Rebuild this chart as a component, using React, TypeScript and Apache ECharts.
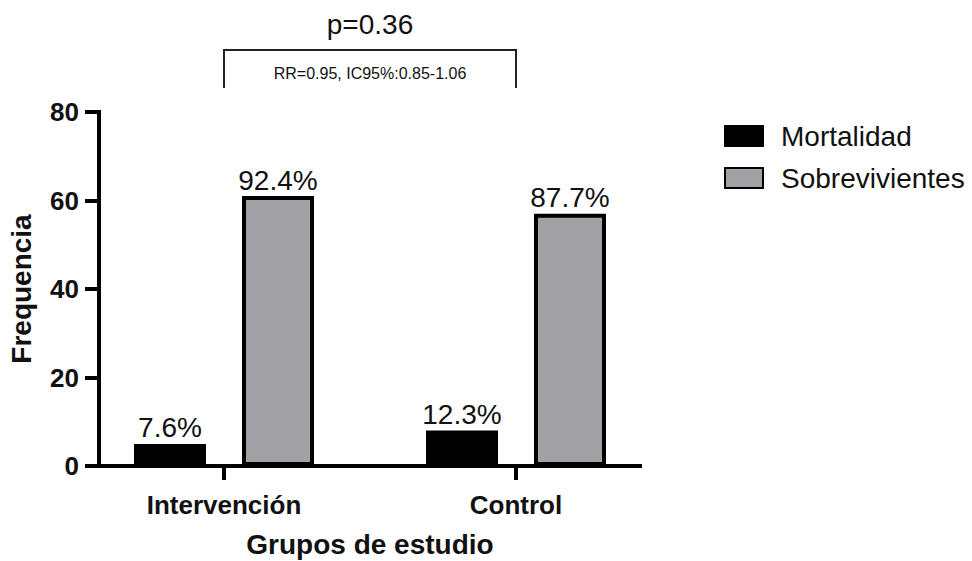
import React, { useEffect, useRef } from "react";
import * as echarts from "echarts";

const categories = ["Intervención", "Control"];
const mortalidad = [5, 8];
const sobrevivientes = [61, 57];
const mortalidadPct = ["7.6%", "12.3%"];
const sobrevivientesPct = ["92.4%", "87.7%"];
const seriesNames = ["Mortalidad", "Sobrevivientes"];
const yMin = 0;
const yMax = 80;
const yInterval = 20;
const pValueText = "p=0.36";
const rrText = "RR=0.95, IC95%:0.85-1.06";

const FONT = "'Liberation Sans', Arial, Helvetica, sans-serif";
const INK = "#111111";

export default function App() {
  const ref = useRef<HTMLDivElement>(null);

  useEffect(() => {
    if (!ref.current) return;
    const chart = echarts.init(ref.current, undefined, { renderer: "svg" });
    const gridTop = 112;
    const gridBottom = 95;
    const option: any = {
      animation: false,
      backgroundColor: "#ffffff",
      textStyle: { fontFamily: FONT, color: INK },
      grid: [
        { left: 99, right: 332, top: gridTop, bottom: gridBottom, outerBoundsMode: "none", containLabel: false },
        { left: 78, right: 310, top: gridTop, bottom: gridBottom, outerBoundsMode: "none", containLabel: false },
      ],
      legend: {
        orient: "vertical",
        left: 719,
        top: 117,
        itemWidth: 38,
        itemHeight: 20,
        itemGap: 14,
        icon: "rect",
        data: seriesNames,
        textStyle: {
          fontFamily: FONT,
          fontSize: 28,
          color: INK,
          padding: [0, 0, 0, 13],
        },
      },
      xAxis: [
        {
          gridIndex: 0,
          type: "value",
          min: 0,
          max: 1,
          axisLine: { show: true, lineStyle: { color: "#000", width: 4, cap: "square" } },
          axisTick: { show: false },
          axisLabel: { show: false },
          splitLine: { show: false },
          z: 3,
        },
        {
          gridIndex: 1,
          type: "category",
          data: categories,
          axisLine: { show: false },
          axisTick: {
            show: true,
            alignWithLabel: true,
            length: 14,
            lineStyle: { color: "#000", width: 4 },
          },
          axisLabel: {
            margin: 26,
            fontFamily: FONT,
            fontSize: 26,
            fontWeight: "bold",
            color: INK,
          },
          name: "Grupos de estudio",
          nameLocation: "middle",
          nameGap: 64,
          nameTextStyle: {
            fontFamily: FONT,
            fontSize: 28,
            fontWeight: "bold",
            color: INK,
          },
        },
      ],
      yAxis: [
        {
          gridIndex: 0,
          type: "value",
          min: yMin,
          max: yMax,
          interval: yInterval,
          axisLine: { show: true, lineStyle: { color: "#000", width: 4, cap: "square" } },
          axisTick: { show: true, length: 14, lineStyle: { color: "#000", width: 4 } },
          axisLabel: {
            margin: 20,
            fontFamily: FONT,
            fontSize: 26,
            fontWeight: "bold",
            color: INK,
          },
          splitLine: { show: false },
          name: "Frequencia",
          nameLocation: "middle",
          nameRotate: 90,
          nameGap: 64,
          nameTextStyle: {
            fontFamily: FONT,
            fontSize: 28,
            fontWeight: "bold",
            color: INK,
          },
        },
        {
          gridIndex: 1,
          type: "value",
          min: yMin,
          max: yMax,
          show: false,
          splitLine: { show: false },
        },
      ],
      series: [
        {
          name: seriesNames[0],
          type: "bar",
          xAxisIndex: 1,
          yAxisIndex: 1,
          data: mortalidad,
          barWidth: 72,
          barGap: "50%",
          itemStyle: { color: "#000000", borderColor: "#000000", borderWidth: 4 },
          label: {
            show: true,
            position: "top",
            distance: 2,
            fontFamily: FONT,
            fontSize: 28,
            color: INK,
            formatter: (p: any) => mortalidadPct[p.dataIndex],
          },
        },
        {
          name: seriesNames[1],
          type: "bar",
          xAxisIndex: 1,
          yAxisIndex: 1,
          data: sobrevivientes,
          barWidth: 72,
          barGap: "50%",
          itemStyle: { color: "#a1a0a5", borderColor: "#000000", borderWidth: 4 },
          label: {
            show: true,
            position: "top",
            distance: 2,
            fontFamily: FONT,
            fontSize: 28,
            color: INK,
            formatter: (p: any) => sobrevivientesPct[p.dataIndex],
          },
        },
      ],
    };
    chart.setOption(option);

    // Bracket annotation anchored on category centres
    const left = chart.convertToPixel({ gridIndex: 1 }, [0, 94]) as number[];
    const right = chart.convertToPixel({ gridIndex: 1 }, [1, 94]) as number[];
    const lower = chart.convertToPixel({ gridIndex: 1 }, [0, 85.4]) as number[];
    if (left && right && lower) {
      const cx = (left[0] + right[0]) / 2;
      chart.setOption({
        graphic: [
          {
            type: "polyline",
            shape: {
              points: [
                [left[0], lower[1]],
                [left[0], left[1]],
                [right[0], right[1]],
                [right[0], lower[1]],
              ],
            },
            style: { stroke: "#222", lineWidth: 2, fill: null },
            silent: true,
          },
          {
            type: "text",
            x: cx,
            y: 24,
            style: {
              text: pValueText,
              font: `28px ${FONT}`,
              fill: INK,
              textAlign: "center",
              textVerticalAlign: "middle",
            },
          },
          {
            type: "text",
            x: cx,
            y: 73,
            style: {
              text: rrText,
              font: `16px ${FONT}`,
              fill: INK,
              textAlign: "center",
              textVerticalAlign: "middle",
            },
          },
        ],
      });
    }

    return () => chart.dispose();
  }, []);

  return (
    <div
      ref={ref}
      style={{ position: "absolute", left: 0, top: 0, width: 972, height: 561 }}
    />
  );
}
